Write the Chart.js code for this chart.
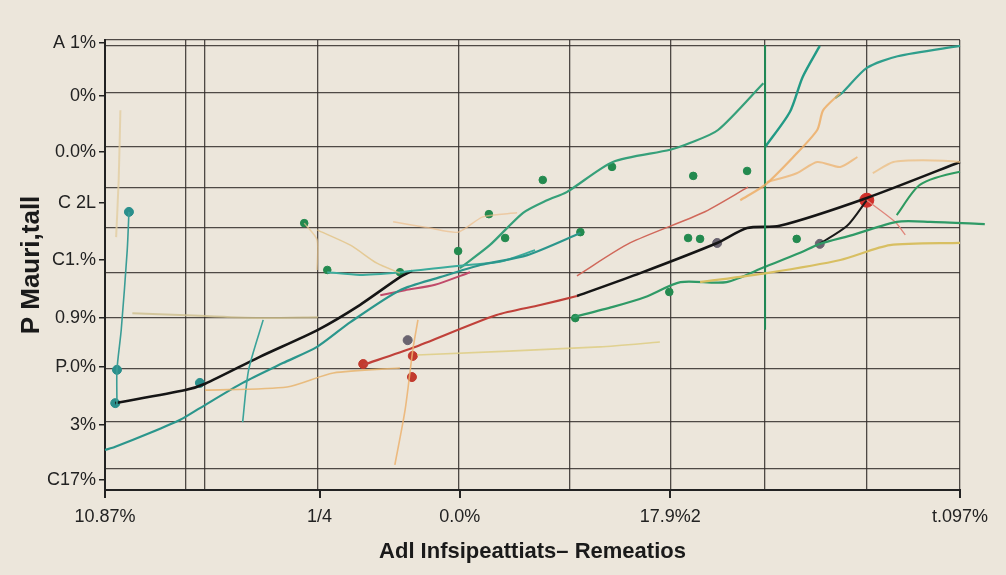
<!DOCTYPE html>
<html><head><meta charset="utf-8">
<script src="https://cdn.jsdelivr.net/npm/chart.js@4/dist/chart.umd.min.js"></script>
<style>html,body{margin:0;padding:0;background:#ece6db;}canvas{display:block}</style>
</head><body><canvas id="c" width="1006" height="575"></canvas>
<script>
// ---- tick labels / grid positions (data units) ----
const yTickValues = [2.2, 14.4, 27.3, 38.2, 51.1, 63.8, 75.1, 87.6, 99.3];
const yTickLabels = ["C17%", "3%", "P.0%", "0.9%", "C1.%", "C 2L", "0.0%", "0%", "A 1%"];
const xTickValues = [0, 25.1, 41.5, 66.1, 100];
const xTickLabels = ["10.87%", "1/4", "0.0%", "17.9%2", "t.097%"];
const yGridValues = [4.7, 15.3, 26.9, 38.4, 48.4, 58.2, 67.1, 76.2, 88.4, 98.7, 100];
const xGridValues = [9.4, 11.6, 24.9, 41.4, 54.4, 66.1, 77.2, 89.1, 100];

// ---- series values [x, y] ----
const blackA = [[1.2,19.3],[9.4,22.2],[11.7,23.6],[18.1,29.6],[24.9,35.6],[29.8,41.1],[34.5,47.3],[35.9,48.7]];
const blackB = [[55.2,43.1],[62.6,48.2],[71.6,54.9],[75.1,58.2],[78.9,58.7],[89.1,64.9],[100,72.9],[102.9,75.1]];
const blackC = [[89.1,64.4],[86.8,58.7],[83.6,54.7]];
const tealLow = [[0,8.9],[1.2,9.6],[5.3,12.7],[8.8,15.6],[11.1,18.2],[16.1,23.8],[20.8,28.2],[24.8,31.8],[28.7,37.3],[34.5,44.4],[39.2,47.3],[43.9,50],[49.4,52.2],[55.6,57.1]];
const tealMid = [[26.0,48.4],[29.8,47.8],[34.5,48.4],[42.3,50],[46.2,50.7],[50.3,53.3]];
const tealBranch = [[18.5,37.8],[16.8,26.7],[16.1,15.1]];
const tealLeft = [[1.4,18.9],[1.4,26.7],[1.9,35.6],[2.6,53.3],[2.8,61.8]];
const tealTop1 = [[77.2,76.2],[80.1,84],[81.6,91.8],[83.6,98.7]];
const tealTop2 = [[85.4,87.1],[86.3,88.4],[89.1,93.8],[92.7,96.4],[100,98.7]];
const greenUp = [[41.5,49.3],[45.0,54.4],[48.9,61.6],[51.7,64.4],[54.0,66.2],[59.4,72.9],[66.1,75.6],[68.4,77.1],[71.7,80],[77.0,90.4]];
const greenVert = [[77.2,98.9],[77.2,35.6]];
const green2 = [[54.7,38.4],[59.4,40.7],[63.2,42.9],[67.3,46.2],[72.7,46.2],[77.2,49.6],[81.3,52.7],[83.6,54.7],[87.5,56.7],[92.6,59.6],[96.5,59.6],[102.9,59.1]];
const green3 = [[92.6,61.1],[95.3,67.8],[100,70.7],[102.9,70.7]];
const red1 = [[30.2,27.8],[36.0,31.6],[45.8,38.9],[50.9,41.1],[55.2,43.1]];
const red2 = [[55.2,47.6],[61.4,54.9],[69.9,61.6],[75.2,67.3]];
const red3 = [[32.2,43.3],[35.1,44.4],[38.6,45.6],[42.7,48.4]];
const red4 = [[89.1,64.4],[92.4,59.6],[93.6,56.7]];
const orangeVert = [[33.9,5.6],[35.1,17.8],[36.0,31.1],[36.6,37.8]];
const orangeUp = [[74.3,64.4],[77.2,67.8],[80.5,74],[83.3,80],[84.0,84.4],[86.0,88.2]];
const orangeMid = [[77.4,68.4],[80.9,70.4],[83.3,72.9],[86.0,71.8],[88.0,74]];
const orangeRight = [[89.8,70.4],[92.2,72.9],[95.7,73.3],[100,72.9],[102.9,71.6]];
const orangeLow = [[11.7,22.2],[21.3,22.9],[26.7,26],[34.5,27.1]];
const tan1 = [[23.3,59.3],[24.8,55.6],[24.8,48.9]];
const tan2 = [[24.8,57.8],[28.7,54.4],[31.8,50.4],[34.5,48.2]];
const tan3 = [[33.7,59.6],[38.0,58.2],[41.3,57.3],[44.2,60.7],[48.2,61.6]];
const tanLeft = [[1.8,84.4],[1.6,68.9],[1.3,56.2]];
const tanHoriz = [[3.2,39.3],[11.1,38.7],[18.5,38.2],[24.9,38.4]];
const yellowLow = [[36.5,30],[57.9,31.8],[64.9,32.9]];
const yellowRight = [[69.6,46.2],[77.4,48.2],[86.0,51.1],[91.8,54.4],[100,54.9]];
const greenDots = [[23.3,59.3],[26.0,48.9],[34.5,48.4],[41.3,53.1],[44.9,61.3],[46.8,56.0],[51.2,68.9],[55.6,57.3],[59.3,71.8],[68.2,56.0],[69.6,55.8],[68.8,69.8],[75.1,70.9],[80.9,55.8],[66.0,44.0],[55.0,38.2]];
const redDots = [[30.2,28.0],[36.0,29.8],[35.9,25.1]];
const bigRed = [[89.1,64.4]];
const tealDots = [[1.2,19.3],[11.1,23.8],[2.8,61.8],[1.4,26.7]];
const grayDots = [[35.4,33.3],[83.6,54.7],[71.6,54.9]];

const P = a => a.map(([x, y]) => ({x, y}));
function line(data, color, width) {
  return {data: P(data), showLine: true, borderColor: color, borderWidth: width,
          pointRadius: 0, fill: false, tension: 0.25, clip: false};
}
function dots(data, color, r) {
  return {data: P(data), showLine: false, backgroundColor: color, borderColor: color,
          pointRadius: r, clip: false};
}

const bgPlugin = {
  id: 'bg',
  beforeDraw(chart) {
    const ctx = chart.ctx;
    ctx.save(); ctx.fillStyle = '#ece6db';
    ctx.fillRect(0, 0, chart.width, chart.height); ctx.restore();
  }
};

const FONT = "'Liberation Sans Narrow','Liberation Sans','DejaVu Sans',sans-serif";

new Chart(document.getElementById('c'), {
  type: 'scatter',
  data: {
    datasets: [
      line(tanLeft, 'rgba(226,205,160,0.8)', 2),
      line(tanHoriz, 'rgba(205,190,140,0.8)', 2),
      line(tan1, 'rgba(232,196,140,0.7)', 1.5),
      line(tan2, 'rgba(225,190,120,0.7)', 1.5),
      line(tan3, 'rgba(236,190,140,0.7)', 1.5),
      line(orangeLow, 'rgba(232,180,110,0.85)', 1.6),
      line(orangeVert, 'rgba(236,178,110,0.85)', 1.6),
      line(orangeUp, 'rgba(238,170,95,0.8)', 2.2),
      line(orangeMid, 'rgba(238,178,110,0.75)', 2),
      line(orangeRight, 'rgba(236,190,130,0.75)', 2),
      line(yellowLow, 'rgba(222,205,130,0.85)', 1.6),
      line(yellowRight, '#d8bf62', 2.2),
      line(greenVert, '#1f8a55', 2),
      line(tealLeft, '#3a9d96', 1.6),
      line(tealBranch, '#3aa39a', 1.6),
      line(tealLow, '#2b968c', 2.2),
      line(tealMid, '#3cab9c', 2),
      line(greenUp, '#36a07a', 2.2),
      line(tealTop1, '#229a86', 2.4),
      line(tealTop2, '#2f9e8c', 2.2),
      line(green2, '#2f9a66', 2.2),
      line(green3, '#2e9a60', 2),
      line(red1, '#c0413a', 2.2),
      line(red2, '#d0685a', 1.5),
      line(red3, '#c04a6a', 2),
      line(red4, '#e0857a', 1.3),
      line(blackA, '#151515', 2.6),
      line(blackB, '#151515', 2.6),
      line(blackC, '#1a1a1a', 2),
      dots(greenDots, '#238a4f', 3.8),
      dots(redDots, '#c23a2e', 4.5),
      dots(bigRed, '#d0302a', 7),
      dots(tealDots, '#2a8f8c', 4.5),
      dots(grayDots, '#6a6470', 4.5)
    ]
  },
  options: {
    responsive: false, animation: false, devicePixelRatio: 1,
    layout: {padding: {top: 40, right: 46, left: 0, bottom: 0}},
    plugins: {legend: {display: false}, tooltip: {enabled: false}},
    scales: {
      x: {
        type: 'linear', position: 'bottom', min: 0, max: 100,
        afterBuildTicks: s => { s.ticks = xTickValues.map(v => ({value: v})); },
        afterFit: s => { s.height = 85; },
        ticks: {autoSkip: false, maxRotation: 0, padding: 8, color: '#222',
                font: {family: FONT, size: 18},
                callback: (v, i) => xTickLabels[i]},
        grid: {drawOnChartArea: false, drawTicks: true, tickLength: 8, color: '#222', lineWidth: 2},
        border: {display: true, color: '#222', width: 2},
        title: {display: true, text: 'Adl Infsipeattiats\u2013 Remeatios', color: '#1a1a1a',
                font: {family: "'Liberation Sans',sans-serif", size: 22, weight: 'bold'},
                padding: {top: 4, bottom: 10}}
      },
      x2: {
        type: 'linear', position: 'top', min: 0, max: 100,
        afterBuildTicks: s => { s.ticks = xGridValues.map(v => ({value: v})); },
        afterFit: s => { s.height = 0; },
        ticks: {display: false},
        grid: {drawTicks: false, color: 'rgba(50,45,42,0.85)', lineWidth: 1.3},
        border: {display: false}
      },
      y: {
        type: 'linear', position: 'left', min: 0, max: 100,
        afterBuildTicks: s => { s.ticks = yTickValues.map(v => ({value: v})); },
        afterFit: s => { s.width = 105; },
        ticks: {autoSkip: false, padding: 3, color: '#222',
                font: {family: FONT, size: 18},
                callback: (v, i) => yTickLabels[i]},
        grid: {drawOnChartArea: false, drawTicks: true, tickLength: 6, color: '#222', lineWidth: 1.5},
        border: {display: true, color: '#222', width: 2},
        title: {display: true, text: 'P Mauri,tall', color: '#1a1a1a',
                font: {family: "'Liberation Sans Narrow','Liberation Sans',sans-serif", size: 26, weight: 'bold'},
                padding: {top: 16, bottom: 0}}
      },
      y2: {
        type: 'linear', position: 'right', min: 0, max: 100,
        afterBuildTicks: s => { s.ticks = yGridValues.map(v => ({value: v})); },
        afterFit: s => { s.width = 0; },
        ticks: {display: false},
        grid: {drawTicks: false, color: 'rgba(50,45,42,0.85)', lineWidth: 1.3},
        border: {display: false}
      }
    }
  },
  plugins: [bgPlugin]
});
</script>
</body></html>
